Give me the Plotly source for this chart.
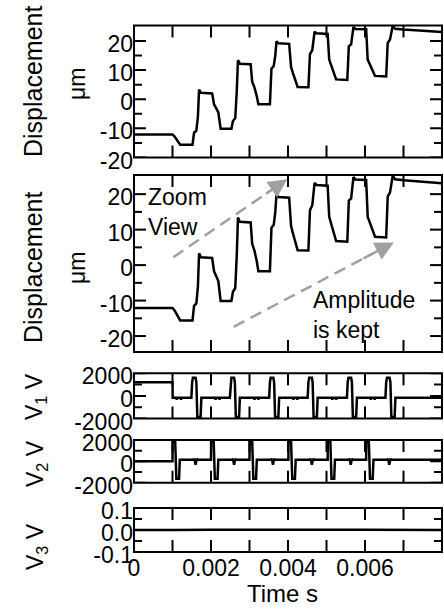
import plotly.graph_objects as go

# ---------------- data ----------------
DISP_T_MS = [0, 1.0, 1.05, 1.1, 1.15, 1.2, 1.52, 1.56, 1.62, 1.66, 1.69, 1.74,
             2.03, 2.08, 2.13, 2.19, 2.25, 2.53, 2.57, 2.63, 2.67, 2.7, 2.75,
             3.03, 3.07, 3.13, 3.19, 3.23, 3.53, 3.57, 3.63, 3.67, 3.7, 3.75,
             4.03, 4.08, 4.14, 4.2, 4.25, 4.53, 4.57, 4.63, 4.66, 4.69, 4.74,
             5.03, 5.07, 5.13, 5.19, 5.25, 5.54, 5.58, 5.64, 5.67, 5.7, 5.75,
             6.03, 6.07, 6.14, 6.2, 6.26, 6.55, 6.59, 6.65, 6.68, 6.72, 6.78,
             7.0, 7.5, 8.0]
DISP_UM = [-12.1, -12.1, -12.7, -13.8, -14.8, -15.6, -15.6, -11.5, -10.8, -6.0, 3.3, 2.2,
           2.0, -1.8, -3.0, -4.5, -10.1, -10.1, -7.5, -6.5, 3.0, 13.4, 12.2,
           12.0, 6.0, 4.0, 1.0, -1.7, -1.7, 10.5, 11.4, 15.0, 19.9, 19.2,
           19.0, 11.0, 8.5, 6.0, 4.2, 4.1, 15.5, 16.8, 20.0, 23.2, 22.6,
           22.4, 13.6, 11.4, 9.0, 6.8, 6.6, 18.2, 18.8, 22.0, 24.8, 24.1,
           24.0, 13.6, 11.4, 9.5, 8.0, 7.8, 19.3, 20.5, 23.0, 25.2, 24.2,
           23.9, 23.5, 23.1]

V1_T_MS = [0, 1.0, 1.005, 1.1, 1.11, 1.12, 1.21, 1.22, 1.23, 1.49, 1.51, 1.53, 1.6, 1.62, 1.645, 1.73, 1.75,
           2.11, 2.12, 2.13, 2.21, 2.22, 2.23, 2.49, 2.51, 2.53, 2.6, 2.62, 2.645, 2.73, 2.75,
           3.12, 3.13, 3.14, 3.22, 3.23, 3.24, 3.51, 3.53, 3.55, 3.62, 3.64, 3.665, 3.75, 3.77,
           4.13, 4.14, 4.15, 4.23, 4.24, 4.25, 4.51, 4.53, 4.55, 4.62, 4.64, 4.665, 4.75, 4.77,
           5.14, 5.15, 5.16, 5.24, 5.25, 5.26, 5.53, 5.55, 5.57, 5.64, 5.66, 5.685, 5.77, 5.79,
           6.14, 6.15, 6.16, 6.24, 6.25, 6.26, 6.53, 6.55, 6.57, 6.64, 6.66, 6.685, 6.77, 6.79,
           8.0]
V1_V = [1200, 1200, -170, -170, -330, -170, -170, -330, -170, -170, 1200, 1610, 1610, 1200, -1860, -1860, -170,
        -170, -330, -170, -170, -330, -170, -170, 1200, 1610, 1610, 1200, -1860, -1860, -170,
        -170, -330, -170, -170, -330, -170, -170, 1200, 1610, 1610, 1200, -1860, -1860, -170,
        -170, -330, -170, -170, -330, -170, -170, 1200, 1610, 1610, 1200, -1860, -1860, -170,
        -170, -330, -170, -170, -330, -170, -170, 1200, 1610, 1610, 1200, -1860, -1860, -170,
        -170, -330, -170, -170, -330, -170, -170, 1200, 1610, 1610, 1200, -1860, -1860, -170,
        -170]

V2_T_MS = [0, 1.0, 1.003, 1.07, 1.1, 1.17, 1.19, 1.55, 1.57, 1.6, 1.63, 1.65,
           2.0, 2.003, 2.07, 2.1, 2.17, 2.19, 2.55, 2.57, 2.6, 2.63, 2.65,
           3.0, 3.003, 3.07, 3.1, 3.17, 3.19, 3.56, 3.58, 3.61, 3.64, 3.66,
           4.01, 4.013, 4.08, 4.11, 4.18, 4.2, 4.57, 4.59, 4.62, 4.65, 4.67,
           5.03, 5.033, 5.1, 5.13, 5.2, 5.22, 5.58, 5.6, 5.63, 5.66, 5.68,
           6.03, 6.033, 6.1, 6.13, 6.2, 6.22, 6.58, 6.6, 6.63, 6.66, 6.68,
           8.0]
V2_V = [0, 0, 1840, 1840, -1640, -1640, 150, 150, 250, -320, 250, 150,
        150, 1840, 1840, -1640, -1640, 150, 150, 250, -320, 250, 150,
        150, 1840, 1840, -1640, -1640, 150, 150, 250, -320, 250, 150,
        150, 1840, 1840, -1640, -1640, 150, 150, 250, -320, 250, 150,
        150, 1840, 1840, -1640, -1640, 150, 150, 250, -320, 250, 150,
        150, 1840, 1840, -1640, -1640, 150, 150, 250, -320, 250, 150,
        150]

V3_T_MS = [0, 0.3, 0.6, 1.0, 2.0, 3.0, 3.5, 4.0, 5.0, 6.0, 7.0, 8.0]
V3_V = [0.0, 0.001, -0.001, 0.0, 0.001, 0.0, 0.002, 0.0, 0.001, 0.001, 0.0, 0.0]

# tick positions and labels
X_TICKS = [0, 0.002, 0.004, 0.006]
X_TICK_TEXT = ["0", "0.002", "0.004", "0.006"]
X_MINOR = [0.001, 0.003, 0.005, 0.007]
DISP_TICKS = [-20, -10, 0, 10, 20]
DISP_TICK_TEXT = ["-20", "-10", "0", "10", "20"]
DISP_MINOR = [-15, -5, 5, 15]
V_TICKS = [-2000, 0, 2000]
V_TICK_TEXT = ["-2000", "0", "2000"]
V_MINOR = [-1000, 1000]
V3_TICKS = [-0.1, 0.0, 0.1]
V3_TICK_TEXT = ["-0.1", "0.0", "0.1"]
V3_MINOR = [-0.05, 0.05]

# arrows (ms, um): start -> tip
ARROWS = [(1.02, 2.2, 3.98, 24.2), (2.59, -17.4, 6.75, 6.4)]

# ---------------- layout geometry ----------------
W, H = 444, 612
PL, PR, PT, PB = 134, 442, 25, 552
FONT = "Liberation Sans, Arial, sans-serif"
FS = 23
X_RANGE = [0, 0.008]
PANELS = [(25.5, 157.5), (175, 352), (373.3, 418.5), (440, 482.7), (508, 552)]
XTICK_LEN, YTICK_LEN, YMINOR_LEN = 12, 12, 8
FRAME_W = 2


def dom(top, bot):
    return [(PB - bot) / (PB - PT), (PB - top) / (PB - PT)]


def px_x(px):
    return (px - PL) / (PR - PL)


def px_y(py):
    return (PB - py) / (PB - PT)


sec = lambda arr: [v / 1000 for v in arr]

fig = go.Figure()
series = [(DISP_T_MS, DISP_UM), (DISP_T_MS, DISP_UM), (V1_T_MS, V1_V), (V2_T_MS, V2_V), (V3_T_MS, V3_V)]
for i, (tt, vv) in enumerate(series):
    sfx = "" if i == 0 else str(i + 1)
    fig.add_trace(go.Scatter(x=sec(tt), y=vv, mode="lines", line=dict(color="black", width=2.5),
                             xaxis="x" + sfx, yaxis="y" + sfx, showlegend=False, hoverinfo="skip"))

yspecs = [
    ([-20, 25.3], DISP_TICKS, DISP_TICK_TEXT, DISP_MINOR),
    ([-24.5, 25.4], DISP_TICKS, DISP_TICK_TEXT, DISP_MINOR),
    ([-2000, 2000], V_TICKS, V_TICK_TEXT, V_MINOR),
    ([-2000, 2000], V_TICKS, V_TICK_TEXT, V_MINOR),
    ([-0.1, 0.1], V3_TICKS, V3_TICK_TEXT, V3_MINOR),
]

layout = dict(width=W, height=H, margin=dict(l=PL, r=W - PR, t=PT, b=H - PB),
              paper_bgcolor="white", plot_bgcolor="white",
              font=dict(family=FONT, size=FS, color="black"), showlegend=False)

shapes = []
pw = PR - PL
xspan = X_RANGE[1] - X_RANGE[0]
for i in range(5):
    sfx = "" if i == 0 else str(i + 1)
    top, bot = PANELS[i]
    ph = bot - top
    rng, tv, tt, mn = yspecs[i]
    yspan = rng[1] - rng[0]
    layout["xaxis" + sfx] = dict(
        domain=[0, 1], anchor="y" + sfx, range=X_RANGE, showgrid=False, zeroline=False,
        showline=False, ticks="inside", ticklen=XTICK_LEN, tickcolor="rgba(0,0,0,0)",
        tickmode="array", tickvals=X_TICKS, ticktext=X_TICK_TEXT, showticklabels=(i == 4),
        tickfont=dict(family=FONT, size=FS, color="black"),
    )
    layout["yaxis" + sfx] = dict(
        domain=dom(top, bot), anchor="x" + sfx, range=rng, showgrid=False, zeroline=False,
        showline=False, ticks="inside", ticklen=YTICK_LEN, tickcolor="rgba(0,0,0,0)",
        tickmode="array", tickvals=tv, ticktext=tt, ticklabelshift=3,
        tickfont=dict(family=FONT, size=FS, color="black"),
    )
    # tick marks drawn as a line trace (segments separated by None)
    tx, ty = [], []
    dy = XTICK_LEN * yspan / ph
    for v in X_TICKS + X_MINOR:
        tx += [v, v, None, v, v, None]
        ty += [rng[0], rng[0] + dy, None, rng[1] - dy, rng[1], None]
    for v, ln in [(t, YTICK_LEN) for t in tv] + [(t, YMINOR_LEN) for t in mn]:
        dx = ln * xspan / pw
        tx += [X_RANGE[0], X_RANGE[0] + dx, None, X_RANGE[1] - dx, X_RANGE[1], None]
        ty += [v, v, None, v, v, None]
    fig.add_trace(go.Scatter(x=tx, y=ty, mode="lines", line=dict(color="black", width=2),
                             xaxis="x" + sfx, yaxis="y" + sfx, showlegend=False, hoverinfo="skip",
                             connectgaps=False))
    # frame
    shapes.append(dict(type="rect", xref="x" + sfx + " domain", yref="y" + sfx + " domain",
                       x0=0, x1=1, y0=0, y1=1, line=dict(color="black", width=FRAME_W), layer="above"))

fig.update_layout(**layout)

ann = []
# y-axis titles
ytitles = [
    ("Displacement", 33, 81, 25), ("μm", 77, 84, 23),
    ("Displacement", 33, 267, 25), ("μm", 77, 268, 23),
    ("V<sub>1</sub> V", 36, 397, 23), ("V<sub>2</sub> V", 36, 464, 23), ("V<sub>3</sub> V", 36, 547, 23),
]
for txt, x, y, fs in ytitles:
    ann.append(dict(text=txt, x=px_x(x), y=px_y(y), xref="paper", yref="paper", showarrow=False,
                    textangle=-90, xanchor="center", yanchor="middle",
                    font=dict(family=FONT, size=fs, color="black")))
# x-axis title
ann.append(dict(text="Time s", x=px_x(282), y=px_y(593), xref="paper", yref="paper", showarrow=False,
                xanchor="center", yanchor="middle", font=dict(family=FONT, size=24, color="black")))
# in-plot texts
ann.append(dict(text="Zoom<br>View", x=0.31 / 1000, y=15.0, xref="x2", yref="y2", showarrow=False,
                xanchor="left", yanchor="middle", align="left", font=dict(family=FONT, size=FS, color="black")))
ann.append(dict(text="Amplitude<br>is kept", x=4.61 / 1000, y=-14.0, xref="x2", yref="y2", showarrow=False,
                xanchor="left", yanchor="middle", align="left", font=dict(family=FONT, size=FS, color="black")))

GRAY = "#a0a0a0"
for (x0, y0, x1, y1) in ARROWS:
    fx = 0.86
    xs, ys = x0 + (x1 - x0) * fx, y0 + (y1 - y0) * fx
    shapes.append(dict(type="line", xref="x2", yref="y2", x0=x0 / 1000, y0=y0, x1=xs / 1000, y1=ys,
                       line=dict(color=GRAY, width=2.5, dash="12px,7px")))
    fb = 0.8
    ann.append(dict(text="", x=x1 / 1000, y=y1, ax=(x0 + (x1 - x0) * fb) / 1000, ay=y0 + (y1 - y0) * fb,
                    xref="x2", yref="y2", axref="x2", ayref="y2", showarrow=True,
                    arrowhead=2, arrowsize=1.5, arrowwidth=2.5, arrowcolor=GRAY, standoff=0))

fig.update_layout(annotations=ann, shapes=shapes)
fig.write_html("out.html", config={"displayModeBar": False},
               post_script="document.body.style.margin='0';document.body.style.overflow='hidden';")
